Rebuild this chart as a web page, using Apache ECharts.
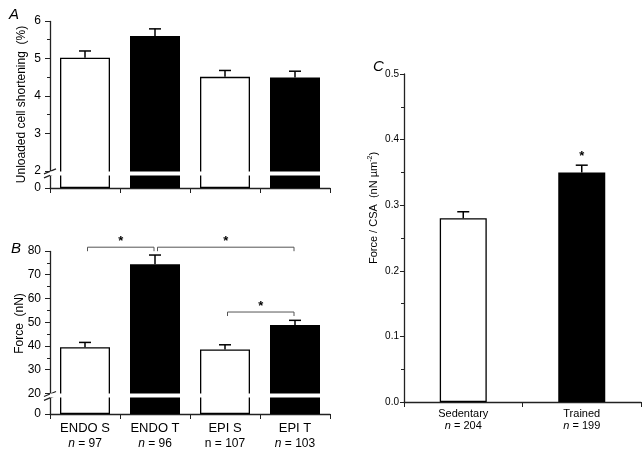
<!DOCTYPE html>
<html><head><meta charset="utf-8">
<script src="https://cdn.jsdelivr.net/npm/echarts@6/dist/echarts.min.js"></script>
<style>html,body{margin:0;padding:0;background:#fff}#c{width:644px;height:450px}</style>
</head><body><div id="c"></div>
<script>
// ---------- data ----------
const categories = ['ENDO S', 'ENDO T', 'EPI S', 'EPI T'];
const groupN = ['97', '96', '107', '103'];
const nItalic = [true, true, false, true];
const barFill = ['#fff', '#000', '#fff', '#000'];

const shortening = [5.02, 5.60, 4.51, 4.49];
const shorteningErr = [0.18, 0.19, 0.17, 0.17];
const shorteningTicks = [0, 2, 3, 4, 5, 6];
const shorteningBreak = [0.35, 2];

const force = [39.5, 74.4, 38.5, 48.8];
const forceErr = [2.0, 3.9, 2.0, 2.0];
const forceTicks = [0, 20, 30, 40, 50, 60, 70, 80];
const forceBreak = [7, 20];
const forceBrackets = [[0, 1, 81.6], [1, 3, 81.6], [2, 3, 54.3]];

const groupsC = ['Sedentary', 'Trained'];
const groupNC = ['204', '199'];
const fillC = ['#fff', '#000'];
const forceCSA = [0.28, 0.35];
const forceCSAErr = [0.01, 0.011];
const sigC = ['', '*'];
const ticksC = [0, 0.1, 0.2, 0.3, 0.4, 0.5];

// ---------- helpers ----------
const FONT = '"Liberation Sans", Arial, sans-serif';
const AX = '#222';
function barData(vals, fills) {
  return vals.map((v, i) => ({
    value: v,
    itemStyle: { color: fills[i], borderColor: '#000', borderWidth: fills[i] === '#fff' ? 1.3 : 0 }
  }));
}
function errData(vals, errs) { return vals.map((v, i) => [i, v, errs[i]]); }
function errRender(sig) {
  return function (params, api) {
    const i = api.value(0), v = api.value(1), e = api.value(2);
    const p0 = api.coord([i, v]);
    const p1 = api.coord([i, v + e]);
    const hw = 6;
    const children = [
      { type: 'line', shape: { x1: p0[0], y1: p0[1], x2: p1[0], y2: p1[1] }, style: { stroke: '#000', lineWidth: 1.5 } },
      { type: 'line', shape: { x1: p1[0] - hw, y1: p1[1], x2: p1[0] + hw, y2: p1[1] }, style: { stroke: '#000', lineWidth: 1.5 } }
    ];
    if (sig && sig[params.dataIndex]) {
      children.push({ type: 'text', style: { text: sig[params.dataIndex], x: p1[0], y: p1[1] - 9, align: 'center', verticalAlign: 'middle', font: 'bold 13px ' + FONT, fill: '#000' } });
    }
    return { type: 'group', children };
  };
}
function bracketRender(params, api) {
  const a = api.value(0), b = api.value(1), lv = api.value(2);
  const p1 = api.coord([a, lv]), p2 = api.coord([b, lv]);
  const x1 = p1[0] + 2.5, x2 = p2[0] - 1, y = p1[1];
  return {
    type: 'group', children: [
      { type: 'polyline', shape: { points: [[x1, y + 4], [x1, y], [x2, y], [x2, y + 4]] }, style: { stroke: '#555', lineWidth: 1, fill: null } },
      { type: 'text', style: { text: '*', x: (x1 + x2) / 2, y: y - 6, align: 'center', verticalAlign: 'middle', font: 'bold 13px ' + FONT, fill: '#000' } }
    ]
  };
}
// slanted "//" marks where the value axis is broken
function breakMarkRender(params, api) {
  const lo = api.coord([0, api.value(0)]);
  const hi = api.coord([0, api.value(1)]);
  const x = params.coordSys.x;
  const w = 6, s = 3;
  return {
    type: 'group', children: [
      { type: 'line', shape: { x1: x - w, y1: lo[1] + s, x2: x + w, y2: lo[1] - s + 1 }, style: { stroke: AX, lineWidth: 1.2 } },
      { type: 'line', shape: { x1: x - w, y1: hi[1] + s, x2: x + w, y2: hi[1] - s + 1 }, style: { stroke: AX, lineWidth: 1.2 } }
    ]
  };
}
function tickFmt(list, digits) {
  return function (v) {
    for (const t of list) if (Math.abs(t - v) < 1e-6) return digits ? t.toFixed(digits) : String(t);
    return '';
  };
}
const breakArea = { show: true, itemStyle: { color: '#fff', borderWidth: 0, opacity: 1 }, zigzagAmplitude: 0, zigzagZ: 100, expandOnClick: false };

function yAxisBase(extra) {
  return Object.assign({
    type: 'value',
    axisLine: { show: true, lineStyle: { color: AX, width: 1.3 } },
    axisTick: { show: true, length: 5, lineStyle: { color: AX } },
    minorTick: { show: true, splitNumber: 2, length: 3, lineStyle: { color: AX } },
    splitLine: { show: false },
    nameLocation: 'middle',
    nameMoveOverlap: false,
    nameTextStyle: { color: '#000', fontFamily: FONT, fontSize: 12 }
  }, extra);
}
function xAxisBase(extra) {
  return Object.assign({
    type: 'category',
    axisLine: { show: true, lineStyle: { color: AX, width: 1.3 } },
    axisTick: { show: true, length: 5, interval: 0, lineStyle: { color: AX } },
    splitLine: { show: false }
  }, extra);
}

const option = {
  animation: false,
  backgroundColor: '#fff',
  textStyle: { fontFamily: FONT },
  title: [
    { text: 'A', left: 4, top: 2, textStyle: { fontStyle: 'italic', fontWeight: 'normal', fontSize: 15, color: '#000', fontFamily: FONT } },
    { text: 'B', left: 6, top: 236, textStyle: { fontStyle: 'italic', fontWeight: 'normal', fontSize: 15, color: '#000', fontFamily: FONT } },
    { text: 'C', left: 368, top: 54, textStyle: { fontStyle: 'italic', fontWeight: 'normal', fontSize: 15, color: '#000', fontFamily: FONT } }
  ],
  grid: [
    { left: 50, top: 21, width: 280, height: 167 },
    { left: 50, top: 251, width: 280, height: 167 },
    { left: 404, top: 74, width: 237, height: 328 }
  ],
  xAxis: [
    xAxisBase({ gridIndex: 0, data: categories, axisLabel: { show: false } }),
    xAxisBase({
      gridIndex: 1, data: categories,
      axisLabel: {
        interval: 0, margin: 6,
        formatter: (v, i) => `{a|${v}}\n{${nItalic[i] ? 'i' : 'b'}|n}{b| = ${groupN[i]}}`,
        rich: {
          a: { fontSize: 13, fontFamily: FONT, color: '#000', lineHeight: 16 },
          b: { fontSize: 12, fontFamily: FONT, color: '#000', lineHeight: 16 },
          i: { fontSize: 12, fontFamily: FONT, color: '#000', fontStyle: 'italic', lineHeight: 16 }
        }
      }
    }),
    xAxisBase({
      gridIndex: 2, data: groupsC,
      axisLabel: {
        interval: 0, margin: 6,
        formatter: (v, i) => `{a|${v}}\n{i|n}{a| = ${groupNC[i]}}`,
        rich: {
          a: { fontSize: 11, fontFamily: FONT, color: '#000', lineHeight: 12 },
          i: { fontSize: 11, fontFamily: FONT, color: '#000', fontStyle: 'italic', lineHeight: 12 }
        }
      }
    })
  ],
  yAxis: [
    yAxisBase({
      gridIndex: 0, min: 0, max: 6, interval: 1,
      breaks: [{ start: shorteningBreak[0], end: shorteningBreak[1], gap: '2.4%' }],
      breakArea: breakArea,
      name: 'Unloaded cell shortening  (%)', nameGap: 22,
      axisTick: { show: true, length: 5, customValues: shorteningTicks, lineStyle: { color: AX } },
      axisLabel: { color: '#000', fontFamily: FONT, fontSize: 12, margin: 9, customValues: shorteningTicks, formatter: tickFmt(shorteningTicks) }
    }),
    yAxisBase({
      gridIndex: 1, min: 0, max: 80, interval: 10,
      breaks: [{ start: forceBreak[0], end: forceBreak[1], gap: '2.4%' }],
      breakArea: breakArea,
      name: 'Force  (nN)', nameGap: 24,
      nameTextStyle: { color: '#000', fontFamily: FONT, fontSize: 12, padding: [0, 0, 0, 18] },
      axisTick: { show: true, length: 5, customValues: forceTicks, lineStyle: { color: AX } },
      axisLabel: { color: '#000', fontFamily: FONT, fontSize: 12, margin: 9, customValues: forceTicks, formatter: tickFmt(forceTicks) }
    }),
    yAxisBase({
      gridIndex: 2, min: 0, max: 0.5, interval: 0.1,
      axisTick: { show: true, length: 4, lineStyle: { color: AX } },
      name: 'Force / CSA  (nN µm{s|-2})', nameGap: 23,
      nameTextStyle: {
        color: '#000', fontFamily: FONT, fontSize: 11, padding: [0, 0, 0, 60],
        rich: { s: { fontSize: 7, fontFamily: FONT, color: '#000', padding: [0, 0, 7, 0] } }
      },
      axisLabel: { color: '#000', fontFamily: FONT, fontSize: 10, margin: 5, formatter: tickFmt(ticksC, 1) }
    })
  ],
  series: [
    { type: 'bar', xAxisIndex: 0, yAxisIndex: 0, barWidth: 50, data: barData(shortening, barFill) },
    { type: 'custom', xAxisIndex: 0, yAxisIndex: 0, renderItem: errRender(null), encode: { x: 0, y: [1, 2] }, data: errData(shortening, shorteningErr), z: 5 },
    { type: 'custom', xAxisIndex: 0, yAxisIndex: 0, renderItem: breakMarkRender, encode: { y: [0, 1] }, data: [shorteningBreak], z: 20 },
    { type: 'bar', xAxisIndex: 1, yAxisIndex: 1, barWidth: 50, data: barData(force, barFill) },
    { type: 'custom', xAxisIndex: 1, yAxisIndex: 1, renderItem: errRender(null), encode: { x: 0, y: [1, 2] }, data: errData(force, forceErr), z: 5 },
    { type: 'custom', xAxisIndex: 1, yAxisIndex: 1, renderItem: bracketRender, encode: { x: [0, 1], y: 2 }, data: forceBrackets, z: 5 },
    { type: 'custom', xAxisIndex: 1, yAxisIndex: 1, renderItem: breakMarkRender, encode: { y: [0, 1] }, data: [forceBreak], z: 20 },
    { type: 'bar', xAxisIndex: 2, yAxisIndex: 2, barWidth: 47, data: barData(forceCSA, fillC) },
    { type: 'custom', xAxisIndex: 2, yAxisIndex: 2, renderItem: errRender(sigC), encode: { x: 0, y: [1, 2] }, data: errData(forceCSA, forceCSAErr), z: 5 }
  ]
};
const chart = echarts.init(document.getElementById('c'), null, { renderer: 'canvas' });
chart.setOption(option);
</script>
</body></html>
